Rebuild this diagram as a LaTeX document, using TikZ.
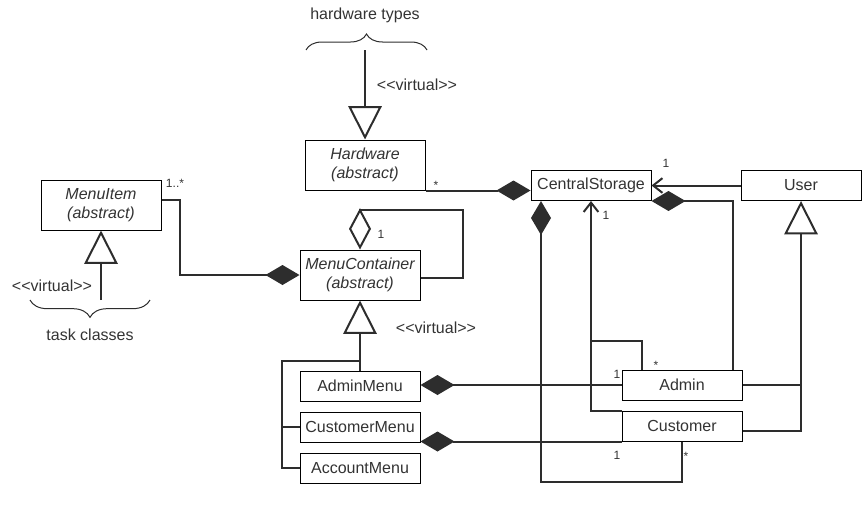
\documentclass[tikz,border=0pt]{standalone}
\usepackage{fontspec}
\newfontfamily\umlfont{Liberation Sans}
\usepackage{tikz}
\usetikzlibrary{arrows.meta,positioning,calc,decorations.pathreplacing}
\definecolor{cLine}{RGB}{45,45,45}
\definecolor{cText}{RGB}{51,51,51}
\tikzset{
  cls/.style={draw=black, line width=0.75pt, fill=white, minimum width=90pt, minimum height=22.5pt,
    inner sep=0pt, text=cText, align=center, font=\umlfont\fontsize{12}{14}\selectfont},
  abscls/.style={cls, minimum height=37.5pt, font=\umlfont\itshape\fontsize{12}{14}\selectfont},
  conn/.style={draw=cLine, line width=1.5pt},
  comp/.style={conn, -{Diamond[length=25.5pt,width=15pt]}},
  aggr/.style={conn, -{Diamond[open,fill=white,length=31pt,width=16.5pt]}},
  gen/.style={conn, -{Triangle[open,fill=white,length=25pt,width=25pt]}},
  nav/.style={conn, -{Straight Barb[length=7pt,width=11pt]}},
  mult/.style={text=cText, inner sep=0pt, font=\umlfont\fontsize{9}{10}\selectfont},
  note/.style={text=cText, inner sep=0pt, font=\umlfont\fontsize{12}{14}\selectfont},
  bracket/.style={draw=cLine, line width=0.75pt, decorate}
}

\begin{document}
\begin{tikzpicture}[x=0.75pt, y=-0.75pt]
\useasboundingbox (0,0) rectangle (862,514);
% classes
\node[abscls] (hardware) at (365,165) {Hardware\\(abstract)};
\node[cls] (storage) at (591,185.5) {CentralStorage};
\node[cls] (user) at (801,185.5) {User};
\node[abscls] (menuitem) at (101,205) {MenuItem\\(abstract)};
\node[abscls] (container) at (360,275) {MenuContainer\\(abstract)};
\node[cls] (adminmenu) at (360,386) {AdminMenu};
\node[cls, below=7.5pt of adminmenu] (custmenu) {CustomerMenu};
\node[cls, below=7.5pt of custmenu] (accmenu) {AccountMenu};
\node[cls] (admin) at (682,385) {Admin};
\node[cls, below=7.5pt of admin] (customer) {Customer};
% free texts and braces
\node[note] (hwtypes) at (365,15) {hardware types};
\node[note] (tasks) at (90,335) {task classes};
\node[note] (virthw) at (417,85) {<<virtual>>};
\node[note] (virtitem) at (52,286) {<<virtual>>};
\node[note] (virtmenu) at (436,328) {<<virtual>>};
\coordinate (hwtip) at (365,50);
\coordinate (tasktip) at (101,300);
\draw[bracket, decoration={brace, amplitude=12pt}] (306,50) -- (427,50);
\draw[bracket, decoration={brace, mirror, amplitude=13pt}] (30,300) -- (150,300);
% generalisations
\draw[gen] (hwtip) -- (hardware.north);
\draw[gen] (tasktip) -- (menuitem.south);
\draw[gen] (adminmenu.north) -- (container.south);
\coordinate (split) at ($(adminmenu.north)+(0,-10)$);
\draw[conn] (split) -| ($(adminmenu.north west)+(-18,0)$) |- (accmenu.west);
\draw[conn] (custmenu.west) -- ++(-18,0);
\draw[gen] (admin.east) -| (user.south);
\draw[conn] ($(customer.east)+(0,5)$) -| (user.south |- admin.east);
% compositions
\draw[comp] (hardware.south east) -- (hardware.south east -| storage.west);
\draw[comp] ($(menuitem.east)+(0,-5)$) -- ++(18,0) |- (container.west);
\draw[aggr] ($(container.east)+(0,3)$) -- ++(42,0) |- ($(container.north)+(0,-40)$) -- (container.north);
\draw[comp] ($(admin.north east)+(-10,0)$) |- (storage.south east);
\draw[comp] (customer.south) -- ++(0,40) -| ($(storage.south)+(-50,0)$);
\draw[comp] (admin.west) -- (admin.west -| adminmenu.east);
\draw[comp] (customer.south west) -- (customer.south west -| custmenu.east);
% associations
\coordinate (join) at (591,341);
\draw[nav] (user.west) -- (storage.east);
\draw[nav] ($(admin.north west)+(20,0)$) |- (join) -- (storage.south);
\draw[conn] (customer.north west) -| (join);
% multiplicities
\node[mult] (mHw) at (436,185) {*};
\node[mult] (mUser) at (666,163) {1};
\node[mult] (mStore) at (606,215) {1};
\node[mult] (mAdmin) at (656,365) {*};
\node[mult] (mAdminMenu) at (617,374) {1};
\node[mult] (mCustStore) at (617,455) {1};
\node[mult] (mCust) at (686,456) {*};
\node[mult] (mItem) at (175,183) {1..*};
\node[mult] (mSelf) at (381,234) {1};
\end{tikzpicture}
\end{document}
